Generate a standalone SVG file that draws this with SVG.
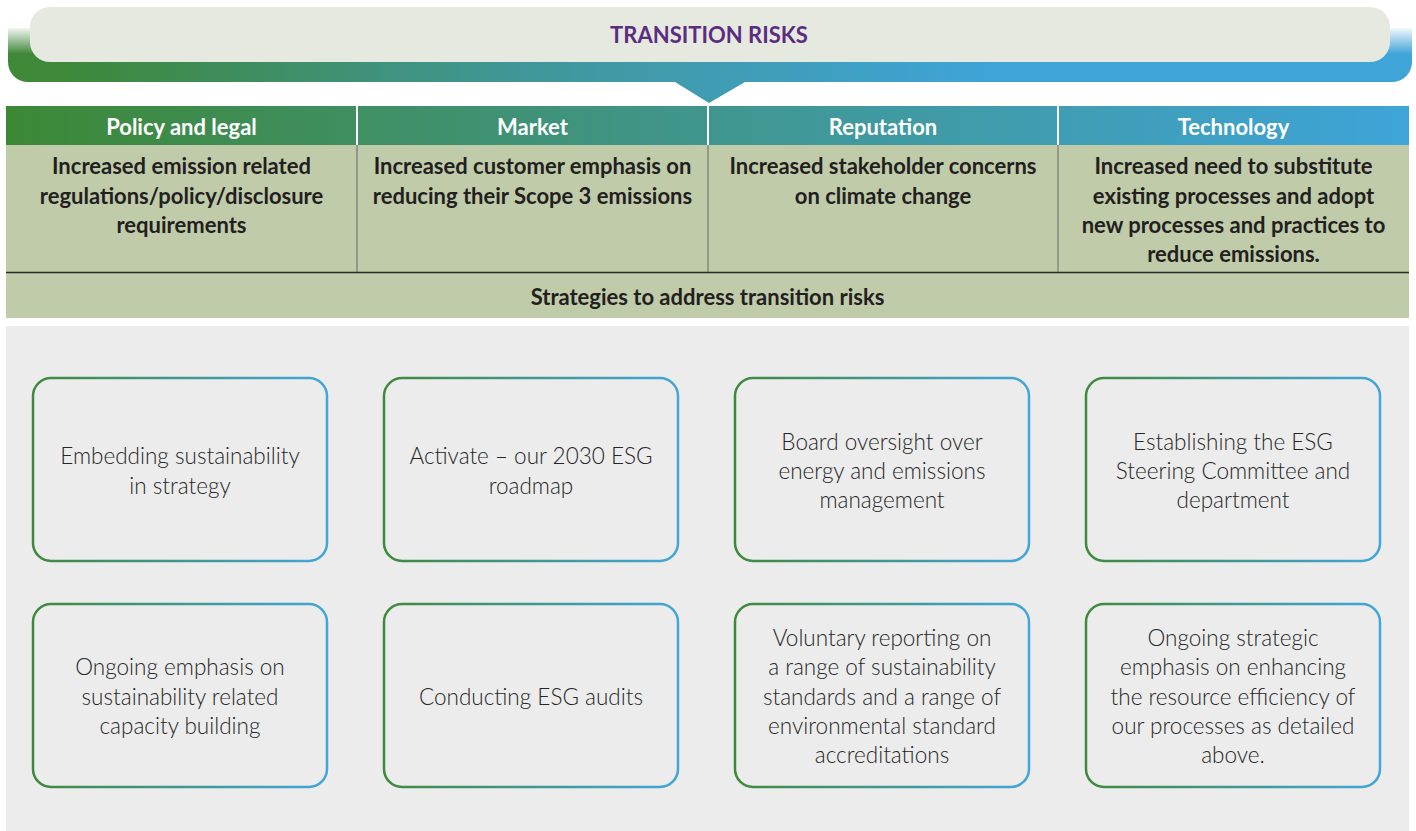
<svg xmlns="http://www.w3.org/2000/svg" width="1416" height="831" viewBox="0 0 1416 831">
<defs>
<linearGradient id="hg" gradientUnits="userSpaceOnUse" x1="6" y1="0" x2="1409" y2="0">
<stop offset="0" stop-color="#3d8835"/><stop offset="0.5" stop-color="#40968e"/><stop offset="1" stop-color="#3fa4d8"/>
</linearGradient>
<linearGradient id="bg" gradientUnits="userSpaceOnUse" x1="60" y1="0" x2="1000" y2="0">
<stop offset="0" stop-color="#3e8838"/><stop offset="0.5" stop-color="#40979a"/><stop offset="1" stop-color="#3fa4d8"/>
</linearGradient>
<linearGradient id="fade" x1="0" y1="0" x2="0" y2="1">
<stop offset="0" stop-color="#fff" stop-opacity="1"/><stop offset="1" stop-color="#fff" stop-opacity="0"/>
</linearGradient>
<linearGradient id="sg" x1="0" y1="0" x2="1" y2="0">
<stop offset="0" stop-color="#3e8a3a"/><stop offset="0.5" stop-color="#41978f"/><stop offset="1" stop-color="#42a6da"/>
</linearGradient>
<style>
.h{font-family:Lato,"Open Sans",sans-serif;font-weight:700;font-size:22px;fill:#fff;text-anchor:middle}
.c{font-family:Lato,"Open Sans",sans-serif;font-weight:700;font-size:22px;fill:#231f20;text-anchor:middle}
.t{font-family:Lato,"Open Sans",sans-serif;font-weight:300;font-size:22.5px;fill:#262626;text-anchor:middle}
.box{fill:#ececec;stroke:url(#sg);stroke-width:2.5}
</style>
</defs>
<rect width="1416" height="831" fill="#fff"/>
<g id="banner">
<path d="M8 28 H1412 V62 A20 20 0 0 1 1392 82 H745 L709 103 L675 82 H28 A20 20 0 0 1 8 62 Z" fill="url(#bg)"/>
<rect x="6" y="26" width="30" height="28" fill="url(#fade)"/>
<rect x="1384" y="26" width="30" height="28" fill="url(#fade)"/>
<rect x="30" y="7" width="1360" height="55" rx="20" fill="#e6e9df"/>
<text x="709" y="43" font-family="Lato,'Open Sans',sans-serif" font-weight="700" font-size="22" fill="#5b2d82" text-anchor="middle">TRANSITION RISKS</text>
</g>
<g id="table">
<rect x="6" y="106" width="1403" height="39" fill="url(#hg)"/>
<rect x="6" y="145" width="1403" height="173" fill="#bfcba9"/>
<g stroke="#fff" stroke-width="2">
<line x1="357" y1="106" x2="357" y2="145"/><line x1="708" y1="106" x2="708" y2="145"/><line x1="1058" y1="106" x2="1058" y2="145"/>
</g>
<g stroke="#777" stroke-width="1.2">
<line x1="357" y1="145" x2="357" y2="272"/><line x1="708" y1="145" x2="708" y2="272"/><line x1="1058" y1="145" x2="1058" y2="272"/>
</g>
<line x1="6" y1="272.5" x2="1409" y2="272.5" stroke="#2b2b2b" stroke-width="1.5"/>
<text class="h" x="181.5" y="135">Policy and legal</text>
<text class="h" x="532.5" y="135">Market</text>
<text class="h" x="883" y="135">Reputation</text>
<text class="h" x="1233.5" y="135">Technology</text>
<text class="c" x="181.5" y="174">Increased emission related</text>
<text class="c" x="181.5" y="204">regulations/policy/disclosure</text>
<text class="c" x="181.5" y="233">requirements</text>
<text class="c" x="532.5" y="174">Increased customer emphasis on</text>
<text class="c" x="532.5" y="204">reducing their Scope 3 emissions</text>
<text class="c" x="883" y="174">Increased stakeholder concerns</text>
<text class="c" x="883" y="204">on climate change</text>
<text class="c" x="1233.5" y="174">Increased need to substitute</text>
<text class="c" x="1233.5" y="204">existing processes and adopt</text>
<text class="c" x="1233.5" y="233">new processes and practices to</text>
<text class="c" x="1233.5" y="262">reduce emissions.</text>
<text class="c" x="707.5" y="305">Strategies to address transition risks</text>
</g>
<rect x="6" y="326" width="1403" height="505" fill="#ececec"/>
<g id="s1"><rect class="box" x="33" y="378" width="294" height="183" rx="18"/>
<text class="t" x="180" y="464">Embedding sustainability</text><text class="t" x="180" y="494">in strategy</text></g>
<g id="s2"><rect class="box" x="384" y="378" width="294" height="183" rx="18"/>
<text class="t" x="531" y="464">Activate – our 2030 ESG</text><text class="t" x="531" y="494">roadmap</text></g>
<g id="s3"><rect class="box" x="735" y="378" width="294" height="183" rx="18"/>
<text class="t" x="882" y="450">Board oversight over</text><text class="t" x="882" y="479">energy and emissions</text><text class="t" x="882" y="508">management</text></g>
<g id="s4"><rect class="box" x="1086" y="378" width="294" height="183" rx="18"/>
<text class="t" x="1233" y="450">Establishing the ESG</text><text class="t" x="1233" y="479">Steering Committee and</text><text class="t" x="1233" y="508">department</text></g>
<g id="s5"><rect class="box" x="33" y="604" width="294" height="183" rx="18"/>
<text class="t" x="180" y="675">Ongoing emphasis on</text><text class="t" x="180" y="705">sustainability related</text><text class="t" x="180" y="734">capacity building</text></g>
<g id="s6"><rect class="box" x="384" y="604" width="294" height="183" rx="18"/>
<text class="t" x="531" y="705">Conducting ESG audits</text></g>
<g id="s7"><rect class="box" x="735" y="604" width="294" height="183" rx="18"/>
<text class="t" x="882" y="646">Voluntary reporting on</text><text class="t" x="882" y="675">a range of sustainability</text><text class="t" x="882" y="705">standards and a range of</text><text class="t" x="882" y="734">environmental standard</text><text class="t" x="882" y="763">accreditations</text></g>
<g id="s8"><rect class="box" x="1086" y="604" width="294" height="183" rx="18"/>
<text class="t" x="1233" y="646">Ongoing strategic</text><text class="t" x="1233" y="675">emphasis on enhancing</text><text class="t" x="1233" y="705">the resource efficiency of</text><text class="t" x="1233" y="734">our processes as detailed</text><text class="t" x="1233" y="763">above.</text></g>
</svg>
